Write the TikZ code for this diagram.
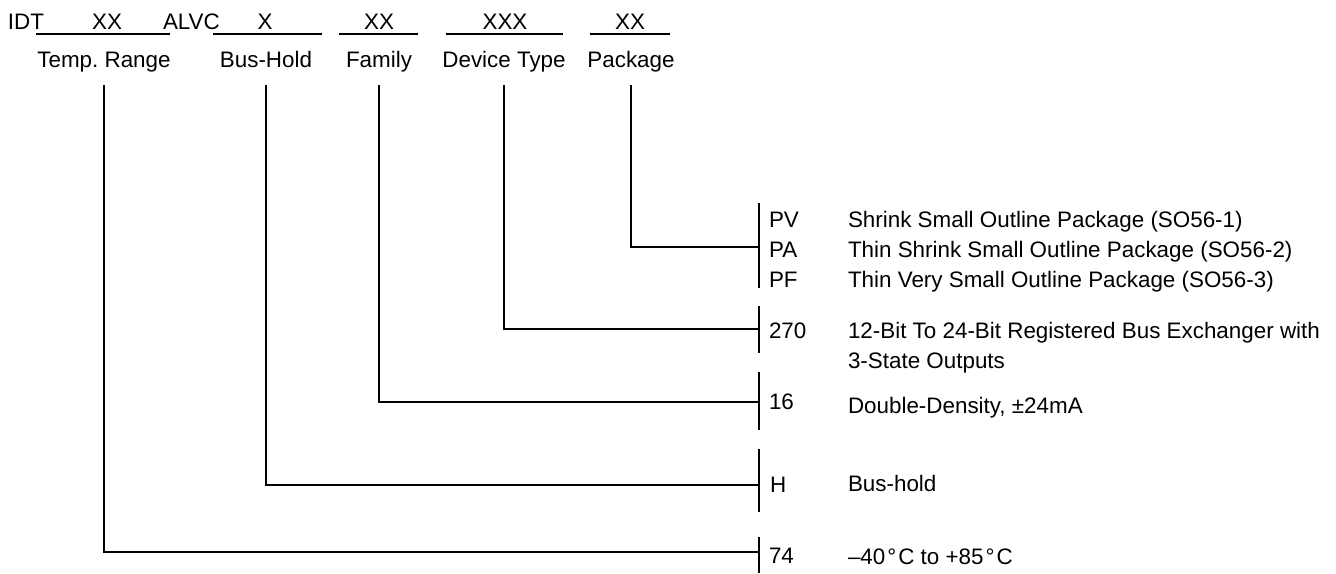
\documentclass[tikz,border=0pt]{standalone}
\usepackage{fontspec}
\setmainfont{Liberation Sans}
\usetikzlibrary{calc}
\tikzset{%
    field/.style={inner sep=0pt,outer sep=0pt,text height=0.72em,text depth=0pt},
    code/.style={field,anchor=west},
    descr/.style={field,anchor=west},
    under/.style={line width=0.75pt},
    lead/.style={line width=0.75pt},
    bar/.style={line width=0.85pt},
}

\begin{document}
\begin{tikzpicture}[x=0.5pt,y=-0.5pt,font=\fontsize{11.2}{13}\selectfont]
        \useasboundingbox (0,0) rectangle (1336,573);

        \node[code] (idt) at (8,22) {IDT};
        \node[field] (xxTemp) at (107,22) {XX};
        \node[code] (alvc) at (163,22) {ALVC};
        \node[field] (xHold) at (265,22) {X};
        \node[field] (xxFam) at (379,22) {XX};
        \node[field] (xxxDev) at (505,22) {XXX};
        \node[field] (xxPkg) at (630,22) {XX};

        \draw[under] (36,34) -- (170,34);
        \draw[under] (213,34) -- (322,34);
        \draw[under] (339,34) -- (418,34);
        \draw[under] (446,34) -- (563,34);
        \draw[under] (590,34) -- (670,34);

        \node[field] (temp) at (104,60) {Temp.\ Range};
        \node[field] (hold) at (266,60) {Bus-Hold};
        \node[field] (fam) at (379,60) {Family};
        \node[field] (dev) at (504,60) {Device Type};
        \node[field] (pkg) at (631,60) {Package};

        \draw[bar] (759,203) -- (759,288);
        \draw[bar] (759,306) -- (759,353);
        \draw[bar] (759,372) -- (759,430);
        \draw[bar] (759,449) -- (759,512);
        \draw[bar] (759,537) -- (759,573);
        \coordinate (jPkg) at (759,247);
        \coordinate (jDev) at (759,329);
        \coordinate (jFam) at (759,402);
        \coordinate (jHold) at (759,485);
        \coordinate (jTemp) at (759,552);

        \draw[lead] ([yshift=-9pt]pkg.south) |- (jPkg);
        \draw[lead] ([yshift=-9pt]dev.south) |- (jDev);
        \draw[lead] ([yshift=-9pt]fam.south) |- (jFam);
        \draw[lead] ([yshift=-9pt]hold.south) |- (jHold);
        \draw[lead] ([yshift=-9pt]temp.south) |- (jTemp);

        \node[code] (codePV) at (769,220) {PV};
        \node[code] (codePA) at (769,250) {PA};
        \node[code] (codePF) at (769,280) {PF};
        \node[code] (code270) at (769,331) {270};
        \node[code] (code16) at (769,402) {16};
        \node[code] (codeH) at (770,485) {H};
        \node[code] (code74) at (769,556) {74};

        \node[descr] (descPV) at (848,220) {Shrink Small Outline Package (SO56-1)};
        \node[descr] (descPA) at (848,250) {Thin Shrink Small Outline Package (SO56-2)};
        \node[descr] (descPF) at (848,280) {Thin Very Small Outline Package (SO56-3)};
        \node[descr] (desc270) at (848,331) {12-Bit To 24-Bit Registered Bus Exchanger with};
        \node[descr] (desc270b) at (848,361) {3-State Outputs};
        \node[descr] (desc16) at (848,406) {Double-Density, ±24mA};
        \node[descr] (descH) at (848,484) {Bus-hold};
        \node[descr] (desc74) at (848,557) {–40\kern1pt°\kern1ptC to +85\kern1pt°\kern1ptC};
    \end{tikzpicture}
\end{document}
